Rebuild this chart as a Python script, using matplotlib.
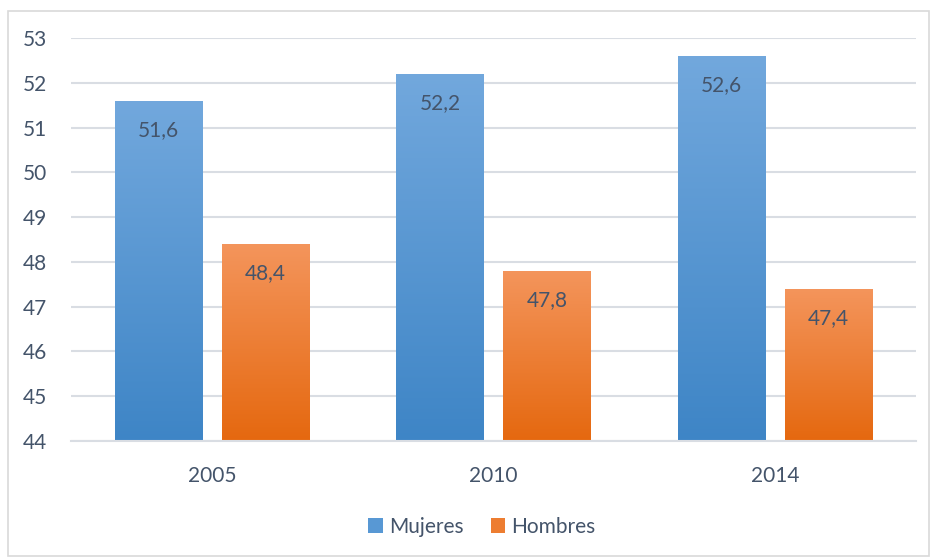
import numpy as np
import matplotlib
matplotlib.use("Agg")
import matplotlib.pyplot as plt
from matplotlib.patches import Rectangle, Patch
from matplotlib.colors import LinearSegmentedColormap

plt.rcParams['font.family'] = ['Lato', 'DejaVu Sans']

years = ['2005', '2010', '2014']
mujeres = [51.6, 52.2, 52.6]
hombres = [48.4, 47.8, 47.4]
series_names = ['Mujeres', 'Hombres']

text_col = '#44546A'
grid_col = '#D9DDE3'
blue_top, blue_bot = '#72A8DD', '#3E85C6'
orange_top, orange_bot = '#F4955C', '#E5680F'


def gradient_bars(ax, bars, top, bot):
    cmap = LinearSegmentedColormap.from_list('g', [bot, top])
    grad = np.linspace(0, 1, 256).reshape(-1, 1)
    for b in bars:
        x0, y0 = b.get_x(), b.get_y()
        w, h = b.get_width(), b.get_height()
        b.set_facecolor('none')
        b.set_edgecolor('none')
        im = ax.imshow(grad, cmap=cmap, aspect='auto', origin='lower',
                       extent=[x0, x0 + w, y0, y0 + h], zorder=2)
        im.set_clip_path(b)


fig = plt.figure(figsize=(9.31, 5.58), dpi=100)
fig.patches.append(Rectangle((8 / 931, 2 / 558), 921 / 931, 545 / 558,
                             transform=fig.transFigure, fill=False,
                             edgecolor='#D9D9D9', lw=1.2))
ax = fig.add_axes([71 / 931, 1 - 441 / 558, 845 / 931, 403 / 558])

x = np.arange(len(years))
w = 0.31
off = 0.19
base = 44
b1 = ax.bar(x - off, np.array(mujeres) - base, w, bottom=base, zorder=2)
b2 = ax.bar(x + off, np.array(hombres) - base, w, bottom=base, zorder=2)
gradient_bars(ax, b1, blue_top, blue_bot)
gradient_bars(ax, b2, orange_top, orange_bot)

for xs, vals in ((x - off, mujeres), (x + off, hombres)):
    for xi, v in zip(xs, vals):
        ax.annotate(f'{v:.1f}'.replace('.', ','), (xi, v), xytext=(0, -21),
                    textcoords='offset points', ha='center', va='center',
                    fontsize=15, color=text_col, zorder=3)

ax.set_xlim(-0.5, 2.5)
ax.set_ylim(44, 53)
ax.set_yticks(range(44, 54))
ax.set_xticks(x)
ax.set_xticklabels(years)
ax.yaxis.grid(True, color=grid_col, lw=1.5, zorder=0)
ax.set_axisbelow(True)
for s in ['top', 'right', 'left']:
    ax.spines[s].set_visible(False)
ax.spines['bottom'].set_color(grid_col)
ax.spines['bottom'].set_linewidth(1.5)
ax.tick_params(axis='both', length=0, labelsize=15, labelcolor=text_col)
ax.tick_params(axis='y', pad=17)
ax.tick_params(axis='x', pad=18)

handles = [Patch(facecolor='#5898D4'), Patch(facecolor='#ED7D31')]
fig.legend(handles, series_names, loc='center', bbox_to_anchor=(482 / 931, 1 - 527 / 558),
           ncol=2, frameon=False, fontsize=15, labelcolor=text_col,
           handlelength=0.7, handleheight=0.7, handletextpad=0.3, columnspacing=1.3)

fig.savefig('out.png', dpi=100)
